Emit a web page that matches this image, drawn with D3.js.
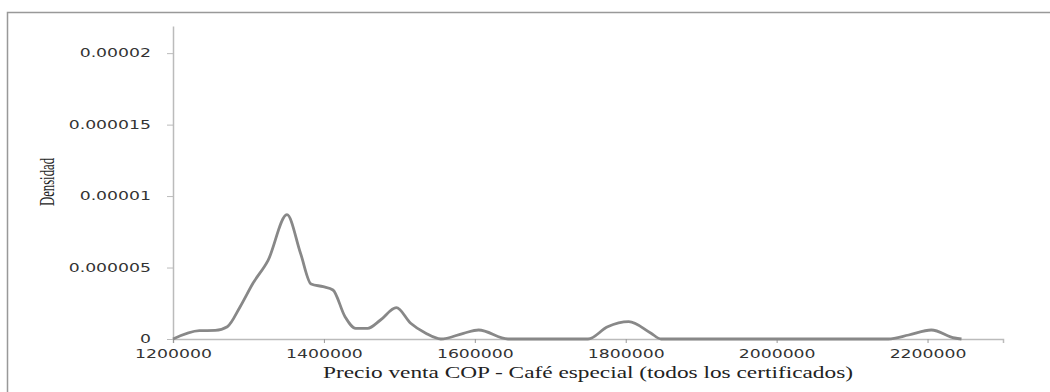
<!DOCTYPE html>
<html>
<head>
<meta charset="utf-8">
<script src="https://cdn.jsdelivr.net/npm/d3@7"></script>
<style>
  body { margin: 0; background: #fff; }
</style>
</head>
<body>
<svg id="chart"></svg>
<script>
// density curve (price COP, density)
const prices = [1200000, 1235000, 1256000, 1272000, 1289000, 1306000, 1326000, 1351000, 1369000, 1383000,
  1399000, 1412000, 1428000, 1442000, 1458000, 1475000, 1496000, 1515000, 1535000, 1555000,
  1585000, 1605000, 1644000, 1750000, 1776000, 1804000, 1833000, 1847000, 2148000, 2175000,
  2205000, 2236000, 2245000];
const densities = [0, 0.00000058, 0.0000006, 0.00000086, 0.00000226, 0.0000039, 0.0000055, 0.0000087, 0.000006, 0.00000385,
  0.00000366, 0.00000343, 0.00000156, 0.00000075, 0.00000075, 0.00000133, 0.00000219, 0.0000011, 0.0000004, 0,
  0.0000004, 0.00000063, 0, 0, 0.00000086, 0.00000121, 0.00000042, 0, 0, 0.00000028,
  0.00000063, 0.00000007, 0];
const xTicks = [1200000, 1400000, 1600000, 1800000, 2000000, 2200000];
const yTicks = [0, 0.000005, 0.00001, 0.000015, 0.00002];
const yTickLabels = ['0', '0.000005', '0.00001', '0.000015', '0.00002'];

const width = 1050;
const height = 392;
const svg = d3.select('#chart').attr('width', width).attr('height', height);

// outer frame, cut off on the right and bottom
svg.append('path')
  .attr('d', `M7.5,${height}V12.5H${width}`)
  .attr('fill', 'none')
  .attr('stroke', '#999')
  .attr('stroke-width', 1.5);

const x = d3.scaleLinear().domain([1200000, 2300000]).range([173, 1003]);
const y = d3.scaleLinear().domain([0, 0.0000219]).range([339, 26]);

// horizontal stretch of the label glyphs
const stretch = (sel, k) => sel.each(function () {
  const w = this.getComputedTextLength();
  d3.select(this).attr('textLength', w * k).attr('lengthAdjust', 'spacingAndGlyphs');
});

const xAxis = svg.append('g')
  .attr('transform', 'translate(0,339)')
  .call(d3.axisBottom(x).tickValues(xTicks).tickSize(4).tickPadding(7).tickFormat(d3.format('d')));
xAxis.select('.domain').attr('stroke', '#bbb').attr('stroke-width', 1.5);
xAxis.selectAll('.tick line').attr('stroke', '#999');
xAxis.selectAll('.tick text')
  .attr('font-family', 'DejaVu Sans')
  .attr('font-size', 11.5)
  .attr('fill', '#333')
  .call(stretch, 1.5);

const yAxis = svg.append('g')
  .attr('transform', 'translate(173,0)')
  .call(d3.axisLeft(y).tickValues(yTicks).tickSize(6).tickSizeOuter(0).tickPadding(16)
    .tickFormat((d, i) => yTickLabels[i]));
yAxis.select('.domain').attr('stroke', '#bbb').attr('stroke-width', 1.5);
yAxis.selectAll('.tick line').attr('stroke', '#bbb');
yAxis.selectAll('.tick text')
  .attr('font-family', 'DejaVu Sans')
  .attr('font-size', 11.5)
  .attr('fill', '#333')
  .call(stretch, 1.5);

const line = d3.line()
  .x((d, i) => x(prices[i]))
  .y(d => y(d))
  .curve(d3.curveMonotoneX);

svg.append('path')
  .datum(densities)
  .attr('d', line)
  .attr('fill', 'none')
  .attr('stroke', '#888')
  .attr('stroke-width', 2.8);

svg.append('text')
  .attr('x', 588)
  .attr('y', 378)
  .attr('text-anchor', 'middle')
  .attr('font-family', 'Liberation Serif')
  .attr('font-size', 16)
  .attr('fill', '#222')
  .attr('textLength', 530)
  .attr('lengthAdjust', 'spacingAndGlyphs')
  .text('Precio venta COP - Café especial (todos los certificados)');

svg.append('text')
  .attr('transform', 'translate(54,182) rotate(-90)')
  .attr('text-anchor', 'middle')
  .attr('font-family', 'Liberation Serif')
  .attr('font-size', 20)
  .attr('fill', '#222')
  .attr('textLength', 48)
  .attr('lengthAdjust', 'spacingAndGlyphs')
  .text('Densidad');
</script>
</body>
</html>
